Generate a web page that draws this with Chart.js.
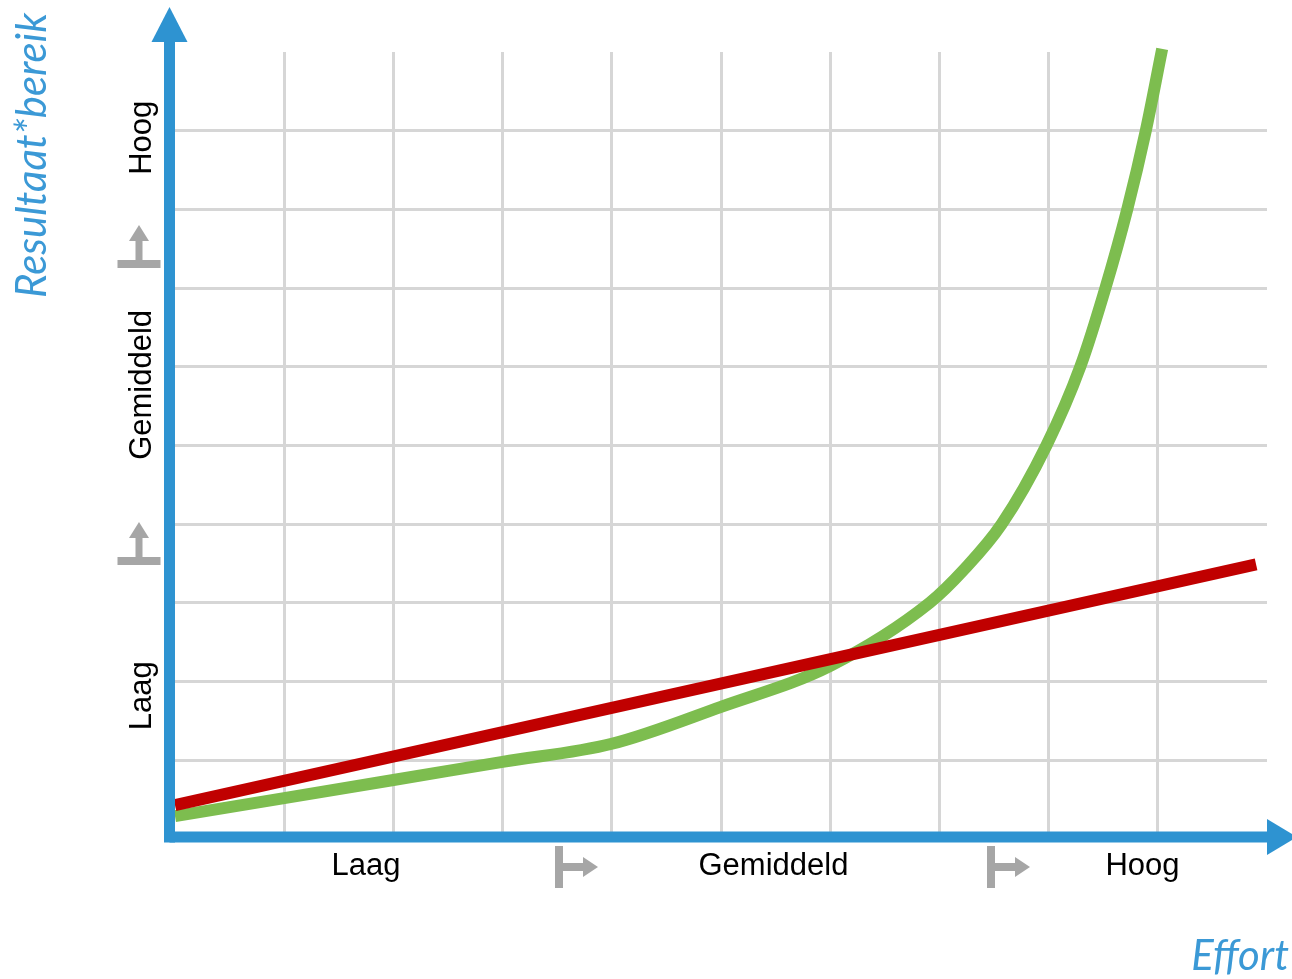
<!DOCTYPE html>
<html>
<head>
<meta charset="utf-8">
<script src="https://cdn.jsdelivr.net/npm/chart.js@4/dist/chart.umd.min.js"></script>
<style>
  html, body { margin: 0; padding: 0; background: #ffffff; }
  #wrap { width: 1292px; height: 979px; }
</style>
</head>
<body>
<div id="wrap"><canvas id="chart" width="1292" height="979"></canvas></div>
<script>
// Effort (x) steps and the result for the two strategies
const effortSteps = [0, 1, 2, 3, 4, 5, 6, 6.91, 7.23, 7.57, 7.98, 8.29, 8.52, 8.72, 8.89, 9.04];
const curveValues = [0.29, 0.52, 0.75, 0.98, 1.21, 1.68, 2.2, 3.0, 3.43, 4.0, 5.0, 6.0, 7.0, 8.0, 9.0, 10.04];
const lineEffort = [0, 9.9];
const lineValues = [0.43, 3.49];

// Level names on both axes, their centres, and the separators between them
const levelLabels = ['Laag', 'Gemiddeld', 'Hoog'];
const xLevelCentres = [1.75, 5.48, 8.86];
const yLevelCentres = [1.82, 5.77, 8.91];
const xLevelBreaks = [3.48, 7.44];
const yLevelBreaks = [3.53, 7.30];

const yTitle = 'Resultaat*bereik';
const xTitle = 'Effort';

const AXIS_BLUE = '#2E93D1';
const TITLE_BLUE = '#3B99D6';
const MARK_GREY = '#A6A6A6';
const GRID_GREY = '#D6D6D6';

const toPoints = (xs, ys) => xs.map((x, i) => ({ x: x, y: ys[i] }));

const axesPlugin = {
  id: 'arrowAxes',
  afterDraw(chart) {
    const { ctx, chartArea: a, scales } = chart;
    const xs = scales.x, ys = scales.y;
    ctx.save();

    // blue axes with arrow heads
    ctx.fillStyle = AXIS_BLUE;
    const vx = a.left - 5.5;
    const hy = a.bottom - 2;
    ctx.fillRect(vx - 5.5, a.top - 12, 11, hy + 5.5 - (a.top - 12));
    ctx.fillRect(vx, hy - 5.5, a.right - vx, 11);
    ctx.beginPath();
    ctx.moveTo(vx, a.top - 45);
    ctx.lineTo(vx + 18, a.top - 10);
    ctx.lineTo(vx - 18, a.top - 10);
    ctx.closePath();
    ctx.fill();
    ctx.beginPath();
    ctx.moveTo(a.right + 30, hy);
    ctx.lineTo(a.right, hy - 18);
    ctx.lineTo(a.right, hy + 18);
    ctx.closePath();
    ctx.fill();

    // level names
    ctx.fillStyle = '#000000';
    ctx.font = '31px "Liberation Sans", Arial, sans-serif';
    ctx.textAlign = 'center';
    ctx.textBaseline = 'alphabetic';
    levelLabels.forEach((t, i) => {
      ctx.fillText(t, xs.getPixelForValue(xLevelCentres[i]), a.bottom + 36);
    });
    levelLabels.forEach((t, i) => {
      ctx.save();
      ctx.translate(a.left - 24, ys.getPixelForValue(yLevelCentres[i]));
      ctx.rotate(-Math.PI / 2);
      ctx.fillText(t, 0, 0);
      ctx.restore();
    });

    // grey step markers between the levels
    ctx.fillStyle = MARK_GREY;
    xLevelBreaks.forEach(v => {
      const px = Math.round(xs.getPixelForValue(v));
      const cy = a.bottom + 28;
      ctx.fillRect(px, cy - 21, 8, 42);
      ctx.fillRect(px + 8, cy - 4, 21, 8);
      ctx.beginPath();
      ctx.moveTo(px + 28, cy - 10);
      ctx.lineTo(px + 43, cy);
      ctx.lineTo(px + 28, cy + 10);
      ctx.closePath();
      ctx.fill();
    });
    yLevelBreaks.forEach(v => {
      const py = Math.round(ys.getPixelForValue(v));
      const cx = a.left - 36;
      ctx.fillRect(cx - 21.5, py - 4, 43, 8);
      ctx.fillRect(cx - 3.5, py - 24, 7, 21);
      ctx.beginPath();
      ctx.moveTo(cx - 10, py - 23);
      ctx.lineTo(cx, py - 39);
      ctx.lineTo(cx + 10, py - 23);
      ctx.closePath();
      ctx.fill();
    });

    // axis titles
    ctx.fillStyle = TITLE_BLUE;
    let size = 40;
    ctx.font = 'italic ' + size + 'px Lato, "Open Sans", sans-serif';
    size = size * 285 / ctx.measureText(yTitle).width;
    ctx.font = 'italic ' + size.toFixed(1) + 'px Lato, "Open Sans", sans-serif';
    ctx.save();
    ctx.translate(46, 298);
    ctx.rotate(-Math.PI / 2);
    ctx.textAlign = 'left';
    ctx.fillText(yTitle, 0, 0);
    ctx.restore();
    ctx.textAlign = 'right';
    ctx.fillText(xTitle, 1289, 970);

    ctx.restore();
  }
};

const interiorGrid = c => (c.tick && (c.tick.value <= 0 || c.tick.value >= 10)) ? 'rgba(0,0,0,0)' : GRID_GREY;

new Chart(document.getElementById('chart'), {
  type: 'scatter',
  data: {
    datasets: [
      {
        data: toPoints(lineEffort, lineValues),
        showLine: true,
        borderColor: '#C00000',
        borderWidth: 12,
        borderCapStyle: 'butt',
        pointRadius: 0,
        clip: false
      },
      {
        data: toPoints(effortSteps, curveValues),
        showLine: true,
        borderColor: '#7DBD4F',
        borderWidth: 12,
        borderCapStyle: 'butt',
        cubicInterpolationMode: 'monotone',
        pointRadius: 0,
        clip: false
      }
    ]
  },
  options: {
    responsive: false,
    animation: false,
    devicePixelRatio: 1,
    layout: { padding: { left: 175, right: 25, top: 52, bottom: 140 } },
    plugins: { legend: { display: false }, tooltip: { enabled: false } },
    scales: {
      x: {
        type: 'linear', min: 0, max: 10,
        ticks: { display: false, stepSize: 1 },
        border: { display: false },
        grid: { color: interiorGrid, lineWidth: 3, drawTicks: false }
      },
      y: {
        type: 'linear', min: 0, max: 10,
        ticks: { display: false, stepSize: 1 },
        border: { display: false },
        grid: { color: interiorGrid, lineWidth: 3, drawTicks: false }
      }
    }
  },
  plugins: [axesPlugin]
});
</script>
</body>
</html>
